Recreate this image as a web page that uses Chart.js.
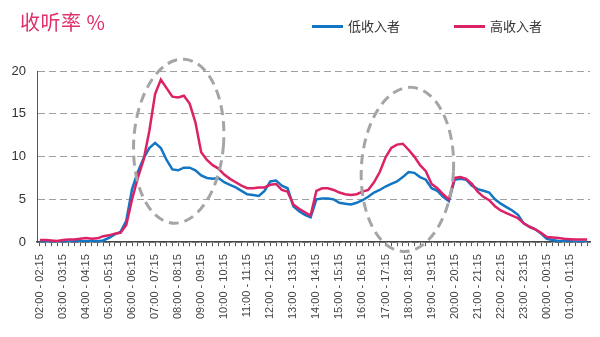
<!DOCTYPE html>
<html>
<head>
<meta charset="utf-8">
<script src="https://cdn.jsdelivr.net/npm/chart.js@4/dist/chart.umd.min.js"></script>
<style>
  html, body { margin: 0; padding: 0; background: #fff; }
  #wrap { position: relative; width: 600px; height: 337px; }
  #title { position: absolute; left: 20px; top: 7px; font: 20px "Noto Sans CJK SC", sans-serif; color: #e0306e; letter-spacing: 0.5px; }
  .key { position: absolute; top: 17px; height: 18px; font: 13px "Noto Sans CJK SC", sans-serif; color: #333; line-height: 18px; white-space: nowrap; }
  .key span { display: inline-block; width: 31px; height: 3px; vertical-align: middle; margin-right: 5px; position: relative; top: -1px; }
  canvas { position: absolute; left: 0; top: 0; }
</style>
</head>
<body>
<div id="wrap">
  <canvas id="chart" width="600" height="337"></canvas>
  <div id="title">收听率 %</div>
  <div class="key" style="left:312px"><span style="background:#1276c4"></span>低收入者</div>
  <div class="key" style="left:454px"><span style="background:#dc2266"></span>高收入者</div>
</div>
<script>
// Quarter-hour slots from 02:00 through 01:45 the next morning
const slotStarts = [];
for (let q = 0; q < 96; q++) {
  const mins = (2 * 60 + q * 15) % (24 * 60);
  slotStarts.push(mins);
}
const fmt = m => String(Math.floor(m / 60)).padStart(2, '0') + ':' + String(m % 60).padStart(2, '0');
const categories = slotStarts.map(m => fmt(m) + ' - ' + fmt((m + 15) % 1440));

// Audience rating (%) per slot
const lowIncome = [
  0.05, 0.05, 0.05, 0.05, 0.05, 0.05, 0.1, 0.1, 0.1, 0.1, 0.1, 0.2,
  0.5, 0.9, 1.2, 2.5, 6.2, 8.2, 9.8, 11.0, 11.6, 11.0, 9.6, 8.5,
  8.4, 8.7, 8.7, 8.4, 7.8, 7.5, 7.4, 7.5, 7.0, 6.7, 6.4, 6.0,
  5.6, 5.5, 5.4, 6.0, 7.1, 7.2, 6.6, 6.3, 4.2, 3.6, 3.2, 2.9,
  5.0, 5.1, 5.1, 5.0, 4.6, 4.5, 4.4, 4.6, 4.9, 5.3, 5.8, 6.1,
  6.5, 6.8, 7.1, 7.6, 8.2, 8.1, 7.6, 7.3, 6.3, 6.0, 5.3, 4.8,
  7.3, 7.4, 7.3, 6.6, 6.2, 6.0, 5.8, 5.0, 4.5, 4.1, 3.7, 3.2,
  2.2, 1.8, 1.5, 1.0, 0.4, 0.25, 0.15, 0.1, 0.1, 0.05, 0.05, 0.05
];
const highIncome = [
  0.25, 0.25, 0.2, 0.15, 0.25, 0.3, 0.3, 0.4, 0.5, 0.4, 0.45, 0.7,
  0.8, 1.0, 1.1, 2.0, 5.0, 7.5, 9.6, 13.0, 17.3, 19.0, 18.0, 17.0,
  16.9, 17.1, 16.2, 14.0, 10.5, 9.6, 9.0, 8.6, 7.9, 7.4, 7.0, 6.6,
  6.3, 6.3, 6.4, 6.4, 6.7, 6.8, 6.1, 5.9, 4.4, 3.9, 3.5, 3.1,
  6.0, 6.3, 6.3, 6.1, 5.8, 5.6, 5.5, 5.6, 5.9, 6.1, 7.0, 8.2,
  9.9, 11.0, 11.4, 11.5, 10.8, 10.0, 9.0, 8.3, 6.8, 6.3, 5.6, 5.0,
  7.5, 7.6, 7.4, 6.8, 5.9, 5.3, 4.9, 4.2, 3.7, 3.4, 3.1, 2.8,
  2.2, 1.8, 1.5, 1.1, 0.6, 0.55, 0.5, 0.4, 0.35, 0.3, 0.3, 0.3
];
const yTicks = [0, 5, 10, 15, 20];

// Dashed ovals around the morning and evening peaks, in data units
const peakOvals = [
  { x: 24.1, y: 11.8, rx: 7.8, ry: 9.6, rot: 4 },
  { x: 63.8, y: 8.5, rx: 8.0, ry: 9.6, rot: 3 }
];

const ovalPlugin = {
  id: 'peakOvals',
  afterDatasetsDraw(chart) {
    const { ctx, scales: { x, y } } = chart;
    ctx.save();
    ctx.strokeStyle = '#a5a5a5';
    ctx.lineWidth = 3;
    ctx.setLineDash([10, 6]);
    peakOvals.forEach(o => {
      const cx = x.getPixelForValue(o.x);
      const cy = y.getPixelForValue(o.y);
      const rx = Math.abs(x.getPixelForValue(o.x + o.rx) - cx);
      const ry = Math.abs(y.getPixelForValue(o.y + o.ry) - cy);
      ctx.beginPath();
      ctx.ellipse(cx, cy, rx, ry, o.rot * Math.PI / 180, 0, Math.PI * 2);
      ctx.stroke();
    });
    ctx.restore();
  }
};

new Chart(document.getElementById('chart'), {
  type: 'line',
  data: {
    labels: categories,
    datasets: [
      { label: '低收入者', data: lowIncome, borderColor: '#1276c4', borderWidth: 2.5, pointRadius: 0, tension: 0, order: 1 },
      { label: '高收入者', data: highIncome, borderColor: '#dc2266', borderWidth: 2.5, pointRadius: 0, tension: 0, order: 0 }
    ]
  },
  options: {
    responsive: false,
    animation: false,
    layout: { padding: { left: 10, right: 10, top: 71, bottom: 10 } },
    plugins: { legend: { display: false }, title: { display: false }, tooltip: { enabled: false } },
    scales: {
      x: {
        offset: true,
        afterFit: s => { s.paddingLeft = 0; s.paddingRight = 0; },
        grid: { drawOnChartArea: false, drawTicks: true, tickLength: 4, color: '#555', lineWidth: 1 },
        border: { display: true, color: '#444', width: 1.5 },
        ticks: {
          autoSkip: false, maxRotation: 90, minRotation: 90, padding: 8,
          color: '#444', font: { family: 'Liberation Sans', size: 11 },
          callback: (v, i) => (i % 4 === 0 ? categories[i] : '')
        }
      },
      y: {
        min: 0, max: 20,
        afterBuildTicks: axis => { axis.ticks = yTicks.map(v => ({ value: v })); },
        afterFit: s => { s.width = 27; },
        grid: { drawTicks: false, color: '#a0a0a0', lineWidth: 1 },
        border: { display: true, color: '#555', width: 1, dash: [7, 4] },
        ticks: { padding: 11, color: '#333', font: { family: 'Liberation Sans', size: 13 } }
      }
    }
  },
  plugins: [ovalPlugin]
});
</script>
</body>
</html>
